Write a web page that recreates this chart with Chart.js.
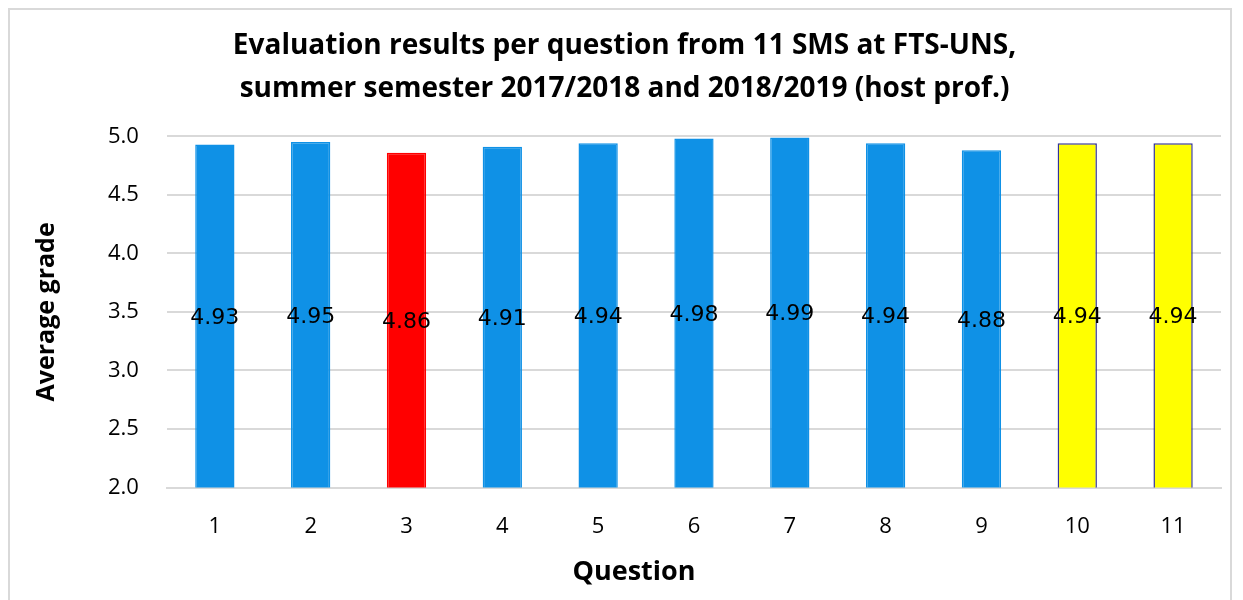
<!DOCTYPE html>
<html>
<head>
<meta charset="utf-8">
<script src="https://cdn.jsdelivr.net/npm/chart.js@4.4.1/dist/chart.umd.min.js"></script>
<style>
  body { margin: 0; background: #fff; }
  #frame { position: absolute; left: 8px; top: 8px; width: 1224px; height: 600px; border: 2px solid #d9d9d9; box-sizing: border-box; }
  #wrap { position: absolute; left: 0; top: 0; width: 1243px; height: 600px; }
</style>
</head>
<body>
<div id="frame"></div>
<div id="wrap"><canvas id="chart"></canvas></div>
<script>
// chart data
const questions = ["1", "2", "3", "4", "5", "6", "7", "8", "9", "10", "11"];
const grades = [4.93, 4.95, 4.86, 4.91, 4.94, 4.98, 4.99, 4.94, 4.88, 4.94, 4.94];
const barColors = ["#0f91e6", "#0f91e6", "#ff0000", "#0f91e6", "#0f91e6", "#0f91e6",
                   "#0f91e6", "#0f91e6", "#0f91e6", "#ffff00", "#ffff00"];
const borderColors = ["#0f91e6", "#0f91e6", "#ff0000", "#0f91e6", "#0f91e6", "#0f91e6",
                      "#0f91e6", "#0f91e6", "#0f91e6", "#333399", "#333399"];
const yTicks = [2.0, 2.5, 3.0, 3.5, 4.0, 4.5, 5.0];
const yMin = 2.0;
const yMax = 5.0;
const xTitle = "Question";

// value labels centred inside each bar (between axis floor and bar top)
// plus the x axis title, which sits a bit left of the plot centre like the original
const centerLabels = {
    id: "centerLabels",
    afterDatasetsDraw(chart) {
        const ctx = chart.ctx;
        const yScale = chart.scales.y;
        const meta = chart.getDatasetMeta(0);
        ctx.save();
        ctx.font = "22px 'DejaVu Sans'";
        ctx.fillStyle = "#000";
        ctx.textAlign = "center";
        ctx.textBaseline = "middle";
        meta.data.forEach(function (bar, i) {
            const mid = yScale.getPixelForValue((grades[i] + yMin) / 2);
            ctx.fillText(grades[i].toFixed(2), bar.x, mid + 2);
        });
        const area = chart.chartArea;
        ctx.font = "bold 27px 'Open Sans'";
        ctx.fillText(xTitle, (area.left + area.right) / 2 - 60, chart.height - 28);
        ctx.restore();
    }
};

let myChart = document.getElementById("chart").getContext("2d");
new Chart(myChart, {
    type: 'bar',
    data: {
        labels: questions,
        datasets: [{
            data: grades,
            backgroundColor: barColors,
            borderColor: borderColors,
            borderWidth: 1.5,
            categoryPercentage: 1.0,
            barPercentage: 0.41
        }]
    },
    plugins: [centerLabels],
    options: {
        responsive: true,
        maintainAspectRatio: false,
        animation: false,
        layout: { padding: { left: 28, right: 22, top: 24, bottom: 34 } },
        plugins: {
            legend: { display: false },
            tooltip: { enabled: false },
            title: {
                display: true,
                text: ["Evaluation results per question from 11 SMS at FTS-UNS,",
                       "summer semester 2017/2018 and 2018/2019 (host prof.)"],
                color: "#000",
                font: { family: "'Open Sans'", size: 28, weight: "bold", lineHeight: 1.54 },
                padding: { top: 0, bottom: 26 }
            }
        },
        scales: {
            x: {
                grid: { display: false, drawTicks: false },
                border: { color: "#d9d9d9", width: 2 },
                ticks: { color: "#000", font: { family: "'Open Sans'", size: 22 }, padding: 26 }
            },
            y: {
                min: yMin,
                max: yMax,
                afterBuildTicks(axis) { axis.ticks = yTicks.map(v => ({ value: v })); },
                grid: { color: "#d9d9d9", lineWidth: 2, drawTicks: false },
                border: { display: false },
                ticks: {
                    color: "#000",
                    font: { family: "'Open Sans'", size: 22 },
                    padding: 28,
                    callback: v => Number(v).toFixed(1)
                },
                title: {
                    display: true, text: "Average grade", color: "#000",
                    font: { family: "'Open Sans'", size: 25, weight: "bold" },
                    padding: { bottom: 18 }
                }
            }
        }
    }
});
</script>
</body>
</html>
